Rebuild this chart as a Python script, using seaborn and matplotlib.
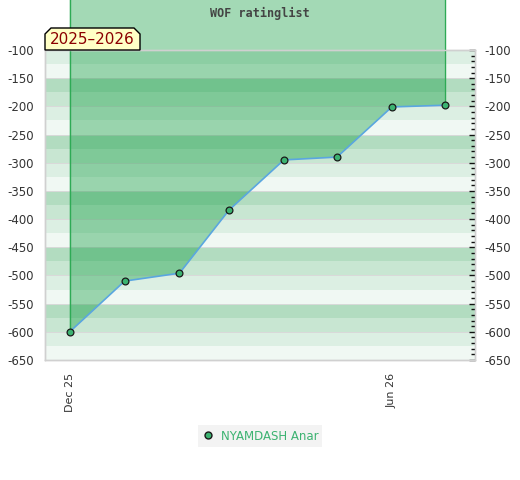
import datetime as dt
import matplotlib
matplotlib.use("Agg")
import matplotlib.pyplot as plt
import matplotlib.dates as mdates
from matplotlib.patches import Polygon
from matplotlib.lines import Line2D
import pandas as pd
import seaborn as sns

# rating list dates (monthly) and ratings
dates = ["2025-12-01", "2026-01-01", "2026-02-01", "2026-03-01",
         "2026-04-01", "2026-05-01", "2026-06-01", "2026-07-01"]
ratings = [-600, -510, -496, -384, -295, -290, -201, -198]
player = "NYAMDASH Anar"
season = "2025\u20132026"
title = "WOF ratinglist"
xtick_dates = ["2025-12-01", "2026-06-01"]
ytick_values = list(range(-100, -651, -50))

df = pd.DataFrame({"date": pd.to_datetime(dates), "rating": ratings})

sns.set_theme(style="white")
plt.rcParams["font.family"] = ["DejaVu Sans"]

fig = plt.figure(figsize=(5.2, 4.8), dpi=100)
ax = fig.add_axes([45 / 520, 1 - 360 / 480, 430 / 520, 310 / 480])

# striped background, 25-point bands repeating every 100
band_cols = ["#dcefe3", "#f0f8f3", "#b2dcc0", "#c8e6d2"]
lo, hi = -650, -100
k = 0
y = hi
while y > lo:
    ax.axhspan(y - 25, y, color=band_cols[k % 4], lw=0, zorder=0)
    y -= 25
    k += 1
for v in ytick_values:
    ax.axhline(v, color="#d9d9d9", lw=0.7, zorder=0.5)

# shaded area from the rating curve up past the top of the plot
xn = mdates.date2num(df["date"])
top = 60
verts = [(xn[0], top)] + list(zip(xn, df["rating"])) + [(xn[-1], top)]
poly = Polygon(verts, closed=True, facecolor=(0.0, 0.59, 0.2, 0.36),
               edgecolor="none", clip_on=False, zorder=2)
ax.add_patch(poly)
for xv, yv in [(xn[0], ratings[0]), (xn[-1], ratings[-1])]:
    ax.add_line(Line2D([xv, xv], [yv, top], color="#2eaa55", lw=1.0,
                       clip_on=False, zorder=3))

sns.lineplot(data=df, x="date", y="rating", ax=ax, color="#5aa6e0",
             lw=1.2, zorder=4, legend=False)
sns.scatterplot(data=df, x="date", y="rating", ax=ax, color="#3cb371",
                edgecolor="#1a1a1a", linewidth=0.9, s=24, zorder=5,
                legend=False)

ax.set_xlim(pd.Timestamp("2025-11-17"), pd.Timestamp("2026-07-18"))
ax.set_ylim(lo, hi)
ax.set_xlabel("")
ax.set_ylabel("")

ax.set_xticks(pd.to_datetime(xtick_dates))
ax.xaxis.set_major_formatter(mdates.DateFormatter("%b %y"))
ax.tick_params(axis="x", rotation=90, labelsize=8, labelcolor="#333333",
               length=0, pad=9)

ax.set_yticks(ytick_values)
ax.set_yticklabels([str(v) for v in ytick_values])
ax.tick_params(axis="y", labelsize=8.5, labelcolor="#333333", length=0,
               pad=8, left=False, right=False, labelleft=True,
               labelright=False)

ax2 = ax.twinx()
ax2.set_ylim(lo, hi)
ax2.set_yticks(ytick_values)
ax2.set_yticklabels([str(v) for v in ytick_values])
ax2.set_yticks(range(-650, -99, 10), minor=True)
ax2.tick_params(axis="y", which="major", direction="in", length=4,
                width=1, color="#111111", labelsize=8.5,
                labelcolor="#333333", pad=7)
ax2.tick_params(axis="y", which="minor", direction="in", length=3,
                width=1, color="#111111")
ax2.grid(False)

for a in (ax, ax2):
    for s in a.spines.values():
        s.set_color("#d0d0d0")
        s.set_linewidth(1.0)

fig.text(260 / 520, 1 - 13 / 480, title, ha="center", va="center",
         fontsize=8.5, fontweight="bold", family="DejaVu Sans Mono",
         color="#444444", zorder=10)

# season badge with clipped top corners
bx0, bx1, by0, by1, c = 45, 140, 50, 28, 6
badge = [(bx0, by0), (bx0, by1 + c), (bx0 + c, by1), (bx1 - c, by1),
         (bx1, by1 + c), (bx1, by0)]
badge = [(x / 520, 1 - y / 480) for x, y in badge]
fig.patches.append(Polygon(badge, closed=True, facecolor="#ffffc6",
                           edgecolor="#000000", lw=1.0,
                           transform=fig.transFigure, zorder=20))
fig.text(92 / 520, 1 - 40 / 480, season, ha="center", va="center",
         fontsize=11, color="#8b0000", zorder=21)

# legend
handle = Line2D([], [], ls="none", marker="o", markersize=5,
                markerfacecolor="#3cb371", markeredgecolor="#1a1a1a")
leg = fig.legend([handle], [player], loc="center",
                 bbox_to_anchor=(260 / 520, 1 - 436 / 480), frameon=True,
                 fontsize=8.5, handlelength=1, handletextpad=0.6,
                 borderpad=0.35, labelcolor="#3cb371", fancybox=False)
leg.get_frame().set_facecolor("#f0f0f0")
leg.get_frame().set_edgecolor("none")

fig.savefig("out.png", dpi=100)
